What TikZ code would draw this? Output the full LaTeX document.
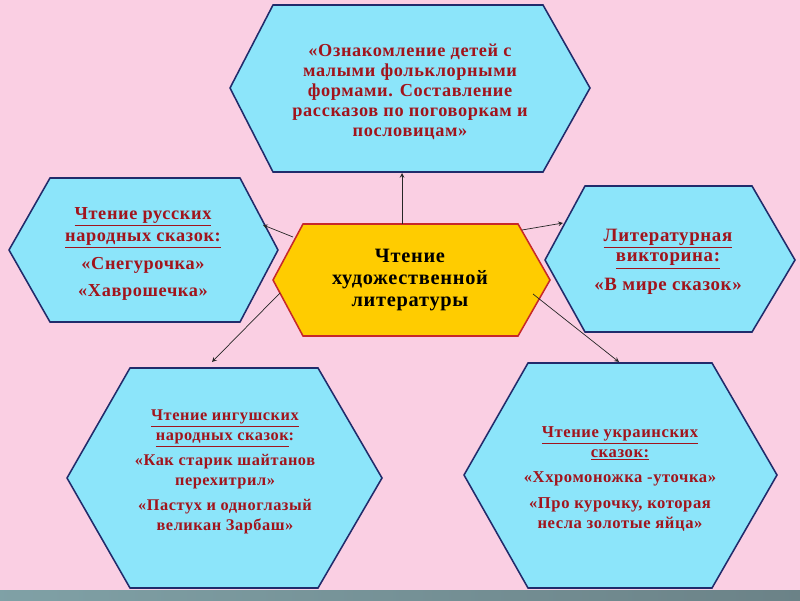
\documentclass[tikz,border=0pt]{standalone}
\usepackage{fontspec}
\setmainfont{Liberation Serif}
\newfontfamily\widefont[LetterSpace=3.5]{Liberation Serif}
\usepackage{tikz}
\pgfdeclarelayer{bglayer}
\pgfdeclarelayer{edgelayer}
\pgfdeclarelayer{nodelayer}
\pgfsetlayers{bglayer,edgelayer,nodelayer,main}
\tikzstyle{none}=[inner sep=0pt]
\definecolor{pinkbg}{rgb}{0.98,0.81,0.89}
\definecolor{skyfill}{rgb}{0.55,0.90,0.98}
\definecolor{navy}{rgb}{0.13,0.17,0.42}
\definecolor{gold}{rgb}{1.00,0.80,0.00}
\definecolor{redline}{rgb}{0.78,0.16,0.16}
\definecolor{redtext}{rgb}{0.63,0.08,0.11}
\definecolor{bandleft}{rgb}{0.50,0.63,0.65}
\definecolor{bandright}{rgb}{0.42,0.51,0.53}
\tikzstyle{bluehex}=[fill=skyfill, draw=navy, line width=1.1pt, line join=miter]
\tikzstyle{goldhex}=[fill=gold, draw=redline, line width=1.1pt, line join=miter]
\tikzstyle{redtxt}=[inner sep=0pt, align=center, text=redtext]
\tikzstyle{blacktxt}=[inner sep=0pt, align=center, text=black, font=\widefont\bfseries\fontsize{14.5}{15.6}\selectfont]
\tikzstyle{link}=[->, >=stealth, line width=0.5pt, color=black!85]
\newcommand{\ul}[1]{\underline{#1}}

\begin{document}
\begin{tikzpicture}
	\begin{pgfonlayer}{bglayer}
		\fill [pinkbg] (0, 0) rectangle (20, 15);
		\shade [left color=bandleft, right color=bandright] (0, 0) rectangle (20, 0.25);
	\end{pgfonlayer}
	\begin{pgfonlayer}{nodelayer}
		% top
		\node [style=none] (0) at (5.75, 12.8) {};
		\node [style=none] (1) at (6.825, 14.875) {};
		\node [style=none] (2) at (13.575, 14.875) {};
		\node [style=none] (3) at (14.75, 12.8) {};
		\node [style=none] (4) at (13.575, 10.7) {};
		\node [style=none] (5) at (6.825, 10.7) {};
		% left
		\node [style=none] (6) at (0.225, 8.75) {};
		\node [style=none] (7) at (1.25, 10.55) {};
		\node [style=none] (8) at (6, 10.55) {};
		\node [style=none] (9) at (6.95, 8.75) {};
		\node [style=none] (10) at (6, 6.95) {};
		\node [style=none] (11) at (1.25, 6.95) {};
		% centre
		\node [style=none] (12) at (6.825, 8) {};
		\node [style=none] (13) at (7.575, 9.4) {};
		\node [style=none] (14) at (12.95, 9.4) {};
		\node [style=none] (15) at (13.75, 8) {};
		\node [style=none] (16) at (12.95, 6.6) {};
		\node [style=none] (17) at (7.575, 6.6) {};
		% right
		\node [style=none] (18) at (13.625, 8.5) {};
		\node [style=none] (19) at (14.625, 10.35) {};
		\node [style=none] (20) at (18.8, 10.35) {};
		\node [style=none] (21) at (19.875, 8.5) {};
		\node [style=none] (22) at (18.8, 6.7) {};
		\node [style=none] (23) at (14.625, 6.7) {};
		% bottom left
		\node [style=none] (24) at (1.675, 3.05) {};
		\node [style=none] (25) at (3.25, 5.8) {};
		\node [style=none] (26) at (7.95, 5.8) {};
		\node [style=none] (27) at (9.55, 3.05) {};
		\node [style=none] (28) at (7.95, 0.3) {};
		\node [style=none] (29) at (3.25, 0.3) {};
		% bottom right
		\node [style=none] (30) at (11.6, 3.125) {};
		\node [style=none] (31) at (13.2, 5.925) {};
		\node [style=none] (32) at (17.8, 5.925) {};
		\node [style=none] (33) at (19.425, 3.125) {};
		\node [style=none] (34) at (17.8, 0.3) {};
		\node [style=none] (35) at (13.2, 0.3) {};
		% arrow ends
		\node [style=none] (36) at (10.05, 9.4) {};
		\node [style=none] (37) at (10.05, 10.675) {};
		\node [style=none] (38) at (7.325, 9.075) {};
		\node [style=none] (39) at (6.575, 9.375) {};
		\node [style=none] (40) at (13.05, 9.25) {};
		\node [style=none] (41) at (14.075, 9.425) {};
		\node [style=none] (42) at (7, 7.675) {};
		\node [style=none] (43) at (5.3, 5.95) {};
		\node [style=none] (44) at (13.325, 7.65) {};
		\node [style=none] (45) at (15.475, 5.95) {};
		% texts
		\node [style=redtxt, font=\widefont\bfseries\fontsize{13}{14.3}\selectfont] (46) at (10.25, 12.7) {«Ознакомление детей с\\малыми фольклорными\\формами. Составление\\рассказов по поговоркам и\\пословицам»};
		\node [style=redtxt, font=\widefont\bfseries\fontsize{13}{15.6}\selectfont] (47) at (3.575, 8.65) {\ul{Чтение русских}\\\ul{народных сказок:}\\[4pt]«Снегурочка»\\[4pt]«Хаврошечка»};
		\node [style=blacktxt] (48) at (10.25, 8) {Чтение\\художественной\\литературы};
		\node [style=redtxt, font=\widefont\bfseries\fontsize{13.4}{14.4}\selectfont] (49) at (16.7, 8.45) {\ul{Литературная}\\\ul{викторина:}\\[6pt]«В мире сказок»};
		\node [style=redtxt, font=\widefont\bfseries\fontsize{11.6}{14}\selectfont] (50) at (5.625, 3.2) {\ul{Чтение ингушских}\\\ul{народных сказок}:\\[4pt]«Как старик шайтанов\\перехитрил»\\[4pt]«Пастух и одноглазый\\великан Зарбаш»};
		\node [style=redtxt, font=\widefont\bfseries\fontsize{11.8}{14.2}\selectfont] (51) at (15.5, 3.025) {\ul{Чтение украинских}\\\ul{сказок:}\\[4pt]«Ххромоножка -уточка»\\[4pt]«Про курочку, которая\\несла золотые яйца»};
	\end{pgfonlayer}
	\begin{pgfonlayer}{edgelayer}
		\draw [style=bluehex] (0.center) to (1.center) to (2.center) to (3.center) to (4.center) to (5.center) to cycle;
		\draw [style=bluehex] (6.center) to (7.center) to (8.center) to (9.center) to (10.center) to (11.center) to cycle;
		\draw [style=goldhex] (12.center) to (13.center) to (14.center) to (15.center) to (16.center) to (17.center) to cycle;
		\draw [style=bluehex] (18.center) to (19.center) to (20.center) to (21.center) to (22.center) to (23.center) to cycle;
		\draw [style=bluehex] (24.center) to (25.center) to (26.center) to (27.center) to (28.center) to (29.center) to cycle;
		\draw [style=bluehex] (30.center) to (31.center) to (32.center) to (33.center) to (34.center) to (35.center) to cycle;
		\draw [style=link] (36.center) to (37.center);
		\draw [style=link] (38.center) to (39.center);
		\draw [style=link] (40.center) to (41.center);
		\draw [style=link] (42.center) to (43.center);
		\draw [style=link] (44.center) to (45.center);
	\end{pgfonlayer}
\end{tikzpicture}
\end{document}
